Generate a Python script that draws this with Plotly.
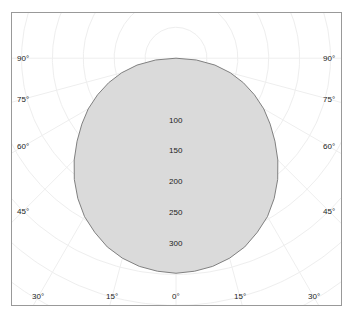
import numpy as np
import plotly.graph_objects as go

# Luminous intensity distribution (cd) vs angle from nadir, symmetric
angles_deg = [0, 5, 10, 15, 20, 25, 30, 35, 40, 45, 50, 55, 60, 65, 70, 75, 80, 85, 90]
intensity = [348, 346, 342, 335, 325, 311, 296, 277, 256, 233, 209, 186, 164, 140, 116, 91, 64, 33, 0]

radial_ticks = [100, 150, 200, 250, 300]
side_angle_ticks = [45, 60, 75, 90]
bottom_angle_ticks = [0, 15, 30]

GRID_STEP_R = 50
GRID_STEP_ANG = 15

fig = go.Figure()

# grid circles
t = np.linspace(0, 2 * np.pi, 361)
for r in range(GRID_STEP_R, 700, GRID_STEP_R):
    fig.add_trace(go.Scatter(x=r * np.sin(t), y=r * np.cos(t), mode="lines",
                             line=dict(color="#eeeeee", width=1), hoverinfo="skip", showlegend=False))
# radial grid lines (lower half, 0..90 each side)
for a in range(-90, 91, GRID_STEP_ANG):
    ar = np.radians(a)
    fig.add_trace(go.Scatter(x=[0, 800 * np.sin(ar)], y=[0, -800 * np.cos(ar)], mode="lines",
                             line=dict(color="#eeeeee", width=1), hoverinfo="skip", showlegend=False))

# intensity curve mirrored on both sides
th = np.radians(np.array(angles_deg, dtype=float))
I = np.array(intensity, dtype=float)
th_full = np.concatenate([-th[::-1], th[1:]])
I_full = np.concatenate([I[::-1], I[1:]])
fig.add_trace(go.Scatter(x=I_full * np.sin(th_full), y=-I_full * np.cos(th_full), mode="lines",
                         fill="toself", fillcolor="#dadada",
                         line=dict(color="#808080", width=1), hoverinfo="skip", showlegend=False))

font = dict(family="Liberation Sans, Arial", size=8, color="#222222")
ann = []
for r in radial_ticks:
    ann.append(dict(x=0, y=-r, text=str(r), showarrow=False, font=font))

SIDE_X = 248.0
BOTTOM_Y = -386.0
for a in side_angle_ticks:
    yy = 0.0 if a == 90 else -SIDE_X / np.tan(np.radians(a))
    for sx in (-1, 1):
        ann.append(dict(x=sx * SIDE_X, y=yy, text=f"{a}°", showarrow=False, font=font))
for a in bottom_angle_ticks:
    xx = -BOTTOM_Y * np.tan(np.radians(a))
    sides = (1,) if a == 0 else (-1, 1)
    for sx in sides:
        ann.append(dict(x=sx * xx, y=BOTTOM_Y, text=f"{a}°", showarrow=False, font=font))

SCALE = 0.618
fig.update_layout(
    width=351, height=317,
    margin=dict(l=12, r=10, t=13, b=12),
    paper_bgcolor="white", plot_bgcolor="white",
    annotations=ann,
    xaxis=dict(range=[-164 / SCALE, 165 / SCALE], showgrid=False, zeroline=False,
               showticklabels=False, ticks="", showline=True, mirror=True,
               linecolor="#999999", linewidth=1),
    yaxis=dict(range=[-246.8 / SCALE, 45.2 / SCALE], showgrid=False, zeroline=False,
               showticklabels=False, ticks="", showline=True, mirror=True,
               linecolor="#999999", linewidth=1),
)

fig.write_html("out.html")
